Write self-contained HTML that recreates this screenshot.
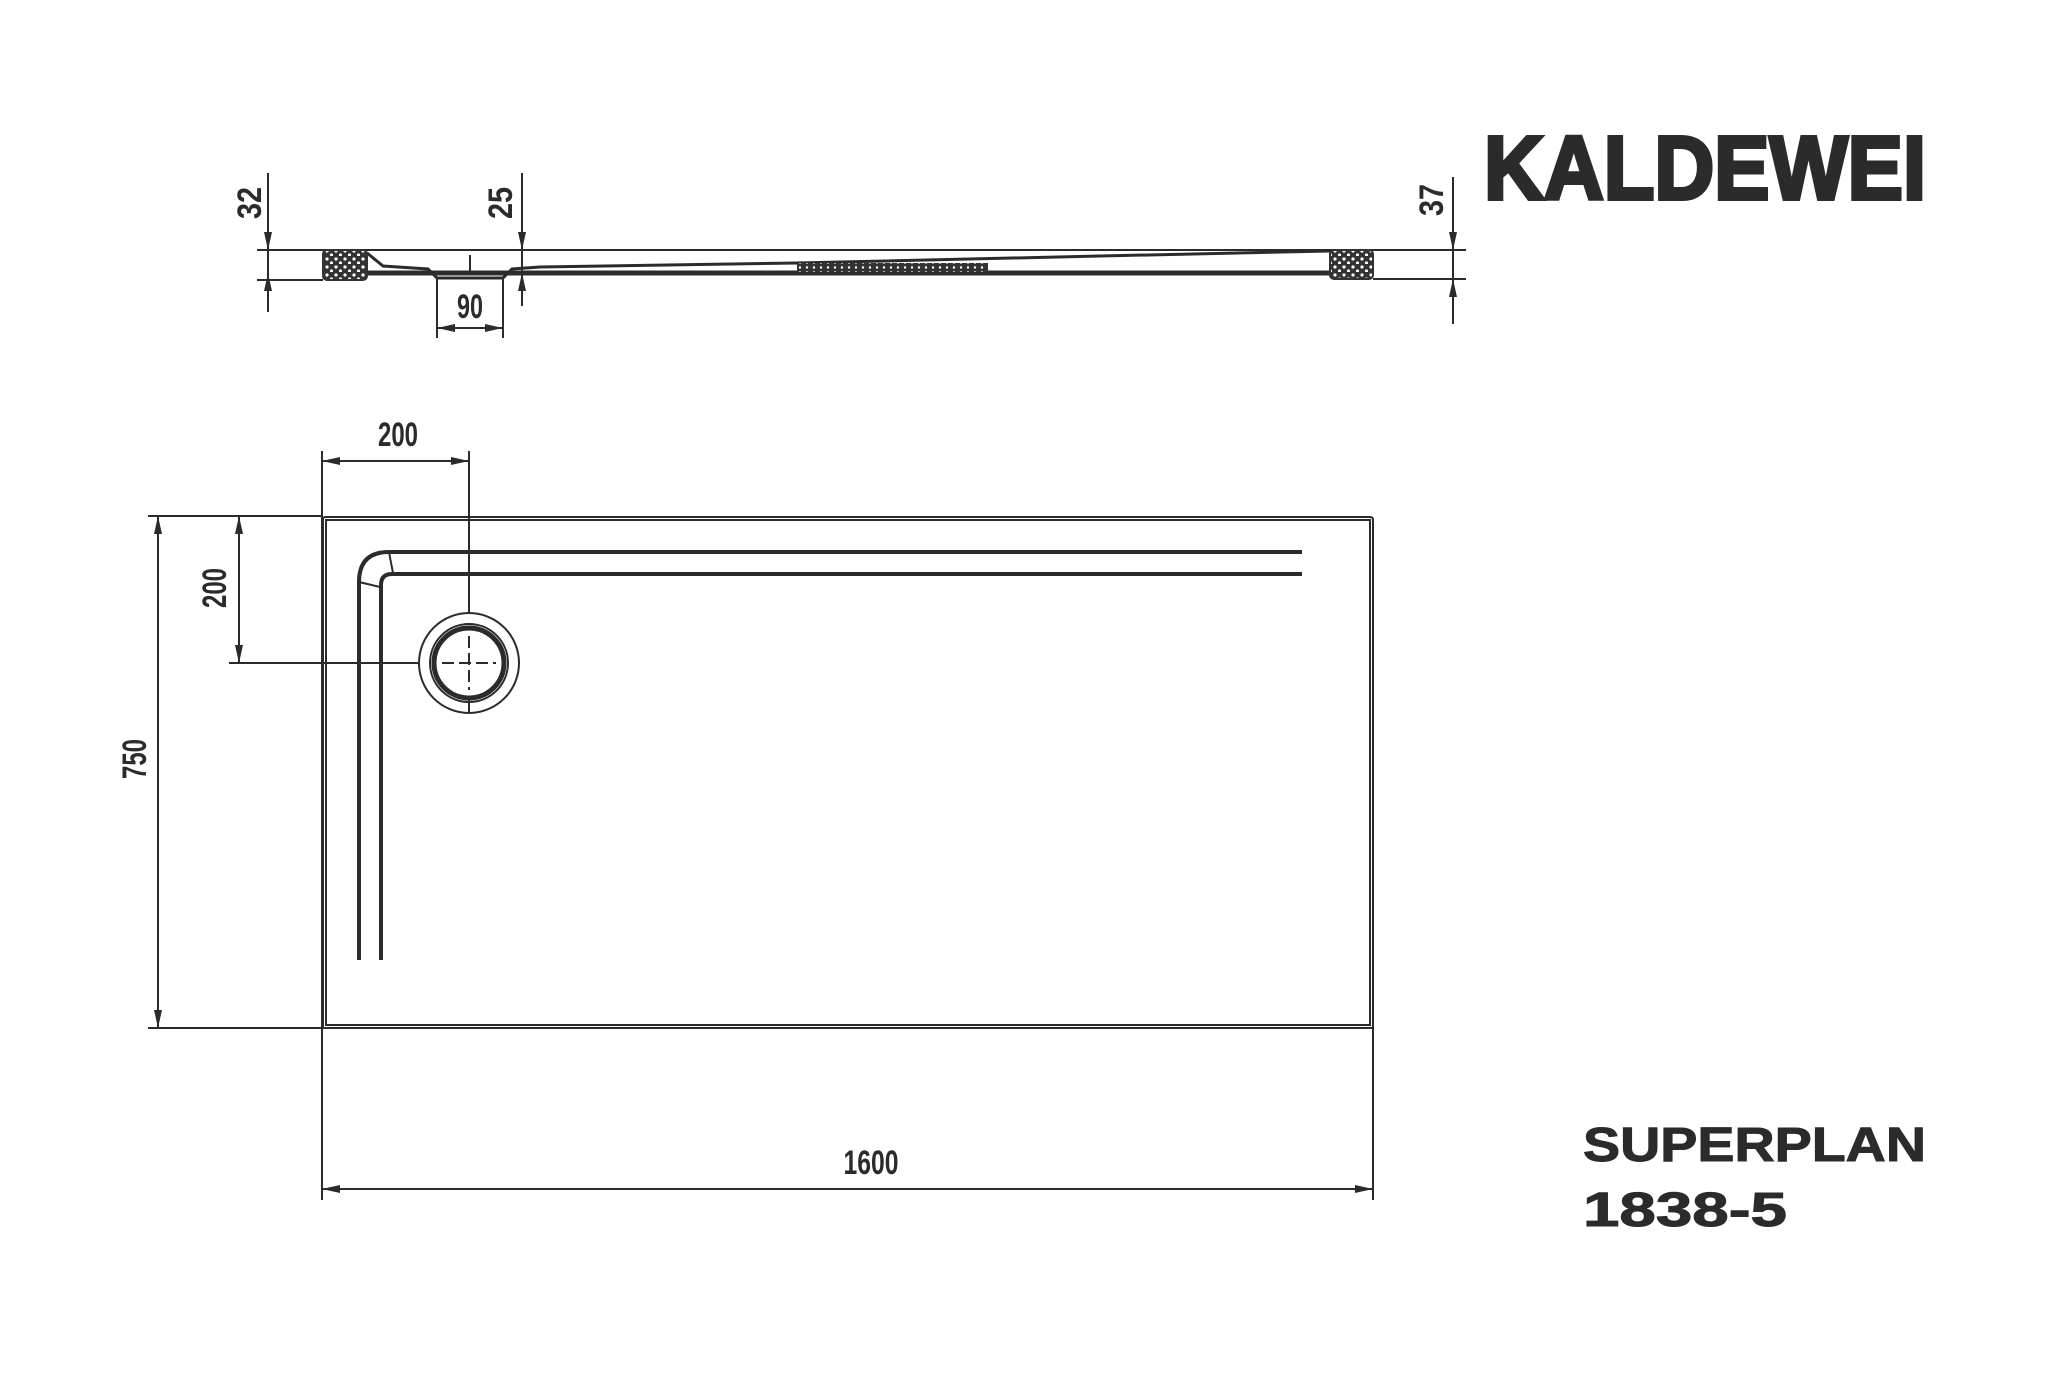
<!DOCTYPE html>
<html><head><meta charset="utf-8"><style>
html,body{margin:0;padding:0;background:#fff;}
svg{display:block;}
text{font-family:"Liberation Sans Narrow","Liberation Sans",sans-serif;font-weight:bold;fill:#2b2b2b;}
</style></head><body>
<svg width="2048" height="1374" viewBox="0 0 2048 1374" xmlns="http://www.w3.org/2000/svg">
<defs>
<pattern id="dots" width="9" height="8" patternUnits="userSpaceOnUse">
<rect width="9" height="8" fill="#333"/>
<circle cx="3" cy="3" r="1.6" fill="#fff"/><circle cx="7.5" cy="7" r="1.6" fill="#fff"/>
</pattern>
<pattern id="dots2" width="7" height="5" patternUnits="userSpaceOnUse">
<rect width="7" height="5" fill="#333"/>
<circle cx="2" cy="2.5" r="1.2" fill="#fff"/>
</pattern>
</defs>
<g stroke="#2b2b2b" fill="none">
<line x1="257" y1="250" x2="1466" y2="250" stroke-width="2"/>
<line x1="257" y1="280" x2="323" y2="280" stroke-width="2"/>
<line x1="1373" y1="279" x2="1466" y2="279" stroke-width="2"/>
<path d="M367 253 L383 266 L428 269 L437 278 L503 278 L512 269 L540 267 L797 263 L1100 256 L1330 251" stroke-width="3"/>
<line x1="367" y1="273" x2="1330" y2="273" stroke-width="5"/>
<line x1="470" y1="255" x2="470" y2="272" stroke-width="2"/>
<rect x="797" y="263" width="191" height="9" fill="url(#dots2)" stroke="none"/>
<rect x="323" y="250" width="44" height="30" rx="4" fill="url(#dots)" stroke="#333" stroke-width="2"/>
<rect x="1330" y="250" width="43" height="29" rx="4" fill="url(#dots)" stroke="#333" stroke-width="2"/>
<line x1="268" y1="173" x2="268" y2="312" stroke-width="2"/>
<line x1="522" y1="173" x2="522" y2="306" stroke-width="2"/>
<line x1="1453" y1="177" x2="1453" y2="324" stroke-width="2"/>
<line x1="437" y1="278" x2="437" y2="338" stroke-width="2"/>
<line x1="503" y1="278" x2="503" y2="338" stroke-width="2"/>
<line x1="437" y1="328" x2="503" y2="328" stroke-width="2"/>

<path d="M323 1028 L323 519 Q323 517 326 517 L1370 517 Q1373 517 1373 520 L1373 1028" stroke-width="2"/>
<path d="M326 1025 L326 520 L1370 520 L1370 1025 Z" stroke-width="2"/>
<line x1="323" y1="1028" x2="1373" y2="1028" stroke-width="2"/>
<path d="M359 960 L359 582 Q359 552 389 552 L1302 552" stroke-width="4"/>
<path d="M381 960 L381 585 Q381 574 392 574 L1302 574" stroke-width="4"/>
<line x1="389" y1="552" x2="393" y2="573" stroke-width="2"/>
<line x1="359" y1="582" x2="380" y2="587" stroke-width="2"/>
<circle cx="469" cy="663" r="50" stroke-width="2"/>
<circle cx="469" cy="663" r="39" stroke-width="2"/>
<circle cx="469" cy="663" r="35" stroke-width="5"/>
<line x1="469" y1="636" x2="469" y2="690" stroke-width="2" stroke-dasharray="12 5"/>
<line x1="442" y1="663" x2="496" y2="663" stroke-width="2" stroke-dasharray="12 5"/>
<line x1="322" y1="451" x2="322" y2="1200" stroke-width="2"/>
<line x1="1373" y1="1028" x2="1373" y2="1200" stroke-width="2"/>
<line x1="469" y1="451" x2="469" y2="613" stroke-width="2"/>
<line x1="469" y1="713" x2="469" y2="700" stroke-width="2"/>
<line x1="322" y1="461" x2="469" y2="461" stroke-width="2"/>
<line x1="148" y1="516" x2="323" y2="516" stroke-width="2"/>
<line x1="148" y1="1028" x2="323" y2="1028" stroke-width="2"/>
<line x1="158" y1="516" x2="158" y2="1028" stroke-width="2"/>
<line x1="229" y1="663" x2="419" y2="663" stroke-width="2"/>
<line x1="239" y1="516" x2="239" y2="663" stroke-width="2"/>
<line x1="322" y1="1189" x2="1373" y2="1189" stroke-width="2"/>
</g>
<g fill="#2b2b2b">
<path d="M268 250 l-4 -18 l8 0 Z"/><path d="M268 273 l-4 18 l8 0 Z"/>
<path d="M522 250 l-4 -18 l8 0 Z"/><path d="M522 273 l-4 18 l8 0 Z"/>
<path d="M1453 250 l-4 -18 l8 0 Z"/><path d="M1453 279 l-4 18 l8 0 Z"/>
<path d="M437 328 l18 -4 l0 8 Z"/><path d="M503 328 l-18 -4 l0 8 Z"/>
<path d="M322 461 l18 -4 l0 8 Z"/><path d="M469 461 l-18 -4 l0 8 Z"/>
<path d="M158 516 l-4 18 l8 0 Z"/><path d="M158 1028 l-4 -18 l8 0 Z"/>
<path d="M239 516 l-4 18 l8 0 Z"/><path d="M239 663 l-4 -18 l8 0 Z"/>
<path d="M322 1189 l18 -4 l0 8 Z"/><path d="M1373 1189 l-18 -4 l0 8 Z"/>
</g>
<g font-size="34" text-anchor="middle">
<text x="0" y="0" transform="translate(261,203) rotate(-90)" textLength="32" lengthAdjust="spacingAndGlyphs">32</text>
<text x="0" y="0" transform="translate(512,203) rotate(-90)" textLength="32" lengthAdjust="spacingAndGlyphs">25</text>
<text x="0" y="0" transform="translate(1443,200) rotate(-90)" textLength="32" lengthAdjust="spacingAndGlyphs">37</text>
<text x="470" y="318" textLength="26" lengthAdjust="spacingAndGlyphs">90</text>
<text x="398" y="446" textLength="40" lengthAdjust="spacingAndGlyphs">200</text>
<text x="0" y="0" transform="translate(226,588) rotate(-90)" textLength="40" lengthAdjust="spacingAndGlyphs">200</text>
<text x="0" y="0" transform="translate(146,759) rotate(-90)" textLength="40" lengthAdjust="spacingAndGlyphs">750</text>
<text x="871" y="1174" textLength="55" lengthAdjust="spacingAndGlyphs">1600</text>
</g>
<text x="1484" y="199" font-size="90" textLength="442" lengthAdjust="spacingAndGlyphs" stroke="#2b2b2b" stroke-width="4" style="font-family:'Liberation Sans Narrow','Liberation Sans',sans-serif;font-weight:bold;">KALDEWEI</text>
<text x="1583" y="1161" font-size="48" textLength="343" lengthAdjust="spacingAndGlyphs" stroke="#2b2b2b" stroke-width="1" style="font-family:'Liberation Sans',sans-serif;">SUPERPLAN</text>
<text x="1583" y="1226" font-size="48" textLength="204" lengthAdjust="spacingAndGlyphs" stroke="#2b2b2b" stroke-width="1" style="font-family:'Liberation Sans',sans-serif;">1838-5</text>
</svg>
</body></html>
